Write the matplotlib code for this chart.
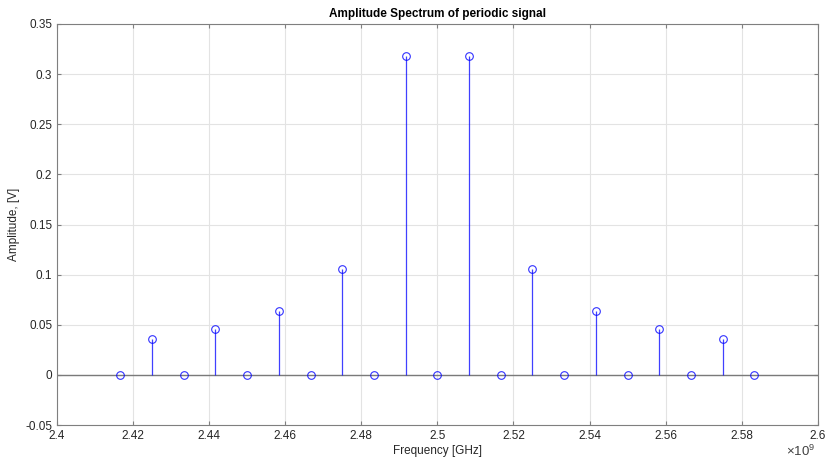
import matplotlib
matplotlib.use('Agg')
import matplotlib.pyplot as plt
import numpy as np

plt.rcParams['font.family'] = ['Liberation Sans', 'DejaVu Sans']
plt.rcParams['mathtext.fontset'] = 'custom'
plt.rcParams['mathtext.rm'] = 'Liberation Sans'
plt.rcParams['mathtext.it'] = 'Liberation Sans'

# frequencies in Hz
freqs = [2.41667e9, 2.425e9, 2.43333e9, 2.44167e9, 2.45e9, 2.45833e9,
         2.46667e9, 2.475e9, 2.48333e9, 2.49167e9, 2.5e9, 2.50833e9,
         2.51667e9, 2.525e9, 2.53333e9, 2.54167e9, 2.55e9, 2.55833e9,
         2.56667e9, 2.575e9, 2.58333e9]
amps = [0.0, 0.0354, 0.0, 0.0455, 0.0, 0.0637,
        0.0, 0.1061, 0.0, 0.3183, 0.0, 0.3183,
        0.0, 0.1061, 0.0, 0.0637, 0.0, 0.0455,
        0.0, 0.0354, 0.0]

fig = plt.figure(figsize=(8.26, 4.61), dpi=100)
ax = fig.add_axes([0.069, 0.078, 0.921, 0.870])

blue = '#0000ff'
ax.axhline(0, color='#7a7a7a', lw=1.0, zorder=2)
ax.vlines(freqs, 0, amps, color=blue, lw=0.9, alpha=0.75, zorder=3)
ax.plot(freqs, amps, 'o', mfc='none', mec=blue, ms=5.5, mew=0.8, alpha=0.8, zorder=4)

ax.set_xlim(2.4e9, 2.6e9)
ax.set_ylim(-0.05, 0.35)
ax.set_xticks(np.arange(2.4e9, 2.6001e9, 0.02e9))
ax.set_xticklabels(['2.4', '2.42', '2.44', '2.46', '2.48', '2.5', '2.52',
                    '2.54', '2.56', '2.58', '2.6'])
ax.set_yticks(np.arange(-0.05, 0.351, 0.05))
ax.set_yticklabels(['-0.05', '0', '0.05', '0.1', '0.15', '0.2', '0.25',
                    '0.3', '0.35'])
ax.grid(True, color='#e3e3e3', lw=0.8)
ax.set_axisbelow(True)
for s in ax.spines.values():
    s.set_color('#7f7f7f')
    s.set_linewidth(0.8)
ax.tick_params(colors='#262626', labelsize=8.5, length=3, direction='in',
               top=True, right=True, labelcolor='#262626')
ax.tick_params(axis='both', color='#7f7f7f')

ax.set_title('Amplitude Spectrum of periodic signal', fontsize=8.5,
             fontweight='bold', pad=5)
ax.set_xlabel('Frequency [GHz]', fontsize=8.5, labelpad=2, color='#262626')
ax.set_ylabel('Amplitude, [V]', fontsize=8.5, labelpad=4, color='#262626')
ax.text(0.997, -0.047, r'$\times10^{9}$', transform=ax.transAxes,
        ha='right', va='top', fontsize=9.5, color='#404040')

fig.savefig('out.png', dpi=100)
